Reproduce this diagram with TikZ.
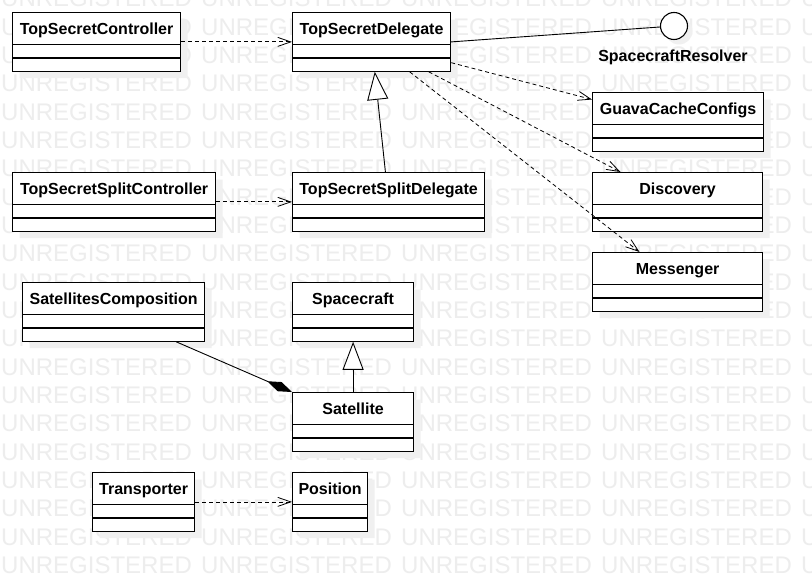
\documentclass[tikz,border=0pt]{standalone}
\usepackage{fontspec}
\setmainfont{Liberation Sans}
\usetikzlibrary{shapes.multipart, arrows.meta, shadows}

% header row of a class box: strut gives the 31pt name compartment
\newcommand{\clshead}[1]{\rule[-10pt]{0pt}{31pt}#1}

\begin{document}
\begin{tikzpicture}[x=1pt, y=-1pt,
		cls/.style={rectangle split, rectangle split parts=3, draw,
			line width=1.2pt, fill=white, anchor=north west,
			inner xsep=0pt, inner ysep=0pt,
			rectangle split empty part height=12pt,
			rectangle split empty part depth=0pt,
			font=\fontsize{16}{18}\selectfont\bfseries,
			drop shadow={shadow xshift=7pt, shadow yshift=-7pt,
				fill=black!6, opacity=1}},
		dep/.style={line width=0.8pt, dash pattern=on 4pt off 3pt,
			arrows={-Straight Barb[length=13pt, width=9pt]}},
		gen/.style={line width=0.9pt,
			arrows={-Triangle[open, length=28pt, width=21pt, fill=white]}},
		comp/.style={line width=0.9pt,
			arrows={Diamond[length=27pt, width=10pt]-}},
		wmark/.style={text=black!7, font=\fontsize{24}{24}\selectfont,
			inner sep=0pt, anchor=base west}]
	\useasboundingbox (0, 0) rectangle (812, 577);
	\fill[white] (0, 0) rectangle (812, 577);

	% watermark
	\foreach \row in {0,...,20} {
		\foreach \col in {0,...,4} {
			\path (1 + \col*200, 7 + \row*28.33) node (wm-\row-\col) [wmark] {UNREGISTERED};
		}
	}

	% classes
	\path (12, 12)   node (TopSecretController) [cls, minimum width=168pt] {\clshead{TopSecretController}};
	\path (292, 12)  node (TopSecretDelegate) [cls, minimum width=158pt] {\clshead{TopSecretDelegate}};
	\path (592, 92)  node (GuavaCacheConfigs) [cls, minimum width=171pt] {\clshead{GuavaCacheConfigs}};
	\path (592, 172) node (Discovery) [cls, minimum width=170pt] {\clshead{Discovery}};
	\path (592, 252) node (Messenger) [cls, minimum width=170pt] {\clshead{Messenger}};
	\path (12, 172)  node (TopSecretSplitController) [cls, minimum width=203pt] {\clshead{TopSecretSplitController}};
	\path (292, 172) node (TopSecretSplitDelegate) [cls, minimum width=192pt] {\clshead{TopSecretSplitDelegate}};
	\path (22, 282)  node (SatellitesComposition) [cls, minimum width=182pt] {\clshead{SatellitesComposition}};
	\path (292, 282) node (Spacecraft) [cls, minimum width=121pt] {\clshead{Spacecraft}};
	\path (292, 392) node (Satellite) [cls, minimum width=121pt] {\clshead{Satellite}};
	\path (92, 472)  node (Transporter) [cls, minimum width=102pt] {\clshead{Transporter}};
	\path (292, 472) node (Position) [cls, minimum width=75pt] {\clshead{Position}};

	% interface
	\path (674, 26) node (SpacecraftResolver)
		[circle, draw, line width=1.1pt, fill=white, minimum size=27pt, inner sep=0pt,
			drop shadow={shadow xshift=5pt, shadow yshift=-5pt, fill=black!6, opacity=1}] {};
	\path (673, 62) node (ResolverLabel)
		[anchor=base, inner sep=0pt, font=\fontsize{16}{18}\selectfont\bfseries]
			{SpacecraftResolver};

	% relations
	\draw[line width=0.9pt] (TopSecretDelegate.east) -- (SpacecraftResolver);
	\draw[dep] (TopSecretController) -- (TopSecretDelegate);
	\draw[dep] (TopSecretSplitController) -- (TopSecretSplitDelegate);
	\draw[dep] (TopSecretDelegate) -- (GuavaCacheConfigs);
	\draw[dep] (TopSecretDelegate) -- (Discovery);
	\draw[dep] (TopSecretDelegate) -- (Messenger);
	\draw[dep] (Transporter) -- (Position);
	\draw[gen] (TopSecretSplitDelegate) -- (TopSecretDelegate);
	\draw[gen] (Satellite) -- (Spacecraft);
	\draw[comp] (Satellite.north west) -- ([xshift=-29pt]SatellitesComposition.south east);
\end{tikzpicture}
\end{document}
